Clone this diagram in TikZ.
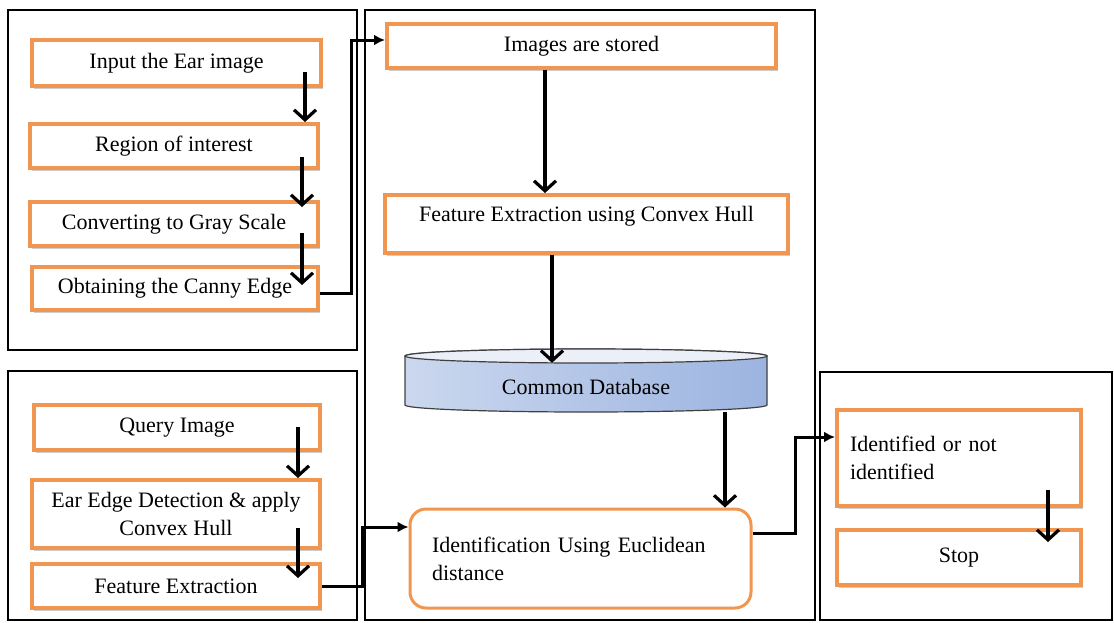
\documentclass[tikz,border=0pt]{standalone}
\usepackage{fontspec}
\setmainfont{Liberation Serif}
\usetikzlibrary{arrows.meta,calc,shadows}
\definecolor{boxorange}{RGB}{240,150,80}
\definecolor{dbblue}{RGB}{156,180,224}
\definecolor{dblight}{RGB}{234,239,248}

\begin{document}
\begin{tikzpicture}[x=1pt,y=-1pt,font=\fontsize{22}{28}\selectfont,
	stepbox/.style={draw=boxorange,line width=4pt,fill=white,inner sep=0pt,align=center,
		drop shadow={opacity=.4,shadow xshift=2pt,shadow yshift=-3pt}},
	roundbox/.style={draw=boxorange,line width=3pt,fill=white,rounded corners=16pt,inner sep=0pt,align=left},
	frame/.style={line width=2.2pt},
	down/.style={-{Straight Barb[length=10pt,width=22pt]},line width=3.2pt},
	link/.style={-{Latex[length=11pt,width=11pt]},line width=3pt}]
	\useasboundingbox (0,0) rectangle (1114,622);

	\draw[frame] (8,10) rectangle (357,350);
	\draw[frame] (8,371) rectangle (357,620);
	\draw[frame] (365,10) rectangle (815,620);
	\draw[frame] (820,372) rectangle (1112,620);

	\node[stepbox,minimum width=289pt,minimum height=46pt] (ear) at (176.5,63) {Input the Ear image};
	\node[stepbox,minimum width=288pt,minimum height=44pt] (roi) at (174,146) {Region of interest};
	\node[stepbox,minimum width=288pt,minimum height=44pt] (gray) at (174,224) {Converting to Gray Scale};
	\node[stepbox,minimum width=286pt,minimum height=43pt] (canny) at (175,288.5) {Obtaining the Canny Edge};

	\node[stepbox,minimum width=286pt,minimum height=45pt] (query) at (177,427.5) {Query Image};
	\node[stepbox,minimum width=288pt,minimum height=68pt] (edge) at (176,514) {Ear Edge Detection \& apply\\Convex Hull};
	\node[stepbox,minimum width=288pt,minimum height=44pt] (featx) at (176,586) {Feature Extraction};

	\node[stepbox,minimum width=389pt,minimum height=44pt] (stored) at (581.5,46) {Images are stored};
	\node[stepbox,minimum width=403pt,minimum height=58pt,text height=15pt,text depth=21pt] (hull) at (586.5,224) {Feature Extraction using Convex Hull};

	\shade[left color=dblight!60!dbblue,middle color=dblight,right color=dbblue,draw=black!75,line width=1.2pt]
		(405,356) -- (405,405) arc[start angle=180,end angle=0,x radius=181,y radius=7]
		-- (767,356) arc[start angle=0,end angle=-180,x radius=181,y radius=7] -- cycle;
	\draw[fill=dblight,draw=black!75,line width=1.2pt] (586,356) ellipse[x radius=181,y radius=7];
	\node[minimum width=362pt,minimum height=56pt,inner sep=0pt,text height=24pt,text depth=3pt] (db) at (586,384) {Common Database};

	\node[roundbox,text width=297pt,inner xsep=22pt,minimum height=99pt] (ident) at (580.5,558.5) {Identification Using Euclidean\\distance};

	\node[stepbox,align=left,text width=218pt,inner xsep=13pt,minimum height=96pt] (identified) at (959,458) {Identified or not\\identified};
	\node[stepbox,minimum width=244pt,minimum height=55pt] (stop) at (959,557.5) {Stop};

	\draw[down] ([xshift=-18pt,yshift=16pt]ear.south east) coordinate (a1) -- (a1 |- roi.north);
	\draw[down] ([xshift=-18pt,yshift=13pt]roi.south east) coordinate (a2) -- ($(a2 |- gray.north)+(0,7)$);
	\draw[down] ([xshift=-18pt,yshift=15pt]gray.south east) coordinate (a3) -- ($(a3 |- canny.north)+(0,20)$);
	\draw[down] ([xshift=-24pt,yshift=25pt]query.south east) coordinate (b1) -- (b1 |- edge.north);
	\draw[down] ([xshift=-24pt,yshift=22pt]edge.south east) coordinate (b2) -- ($(b2 |- featx.north)+(0,16)$);
	\draw[down] ([xshift=-35pt,yshift=18pt]identified.south east) coordinate (c1) -- ($(c1 |- stop.north)+(0,14)$);
	\draw[down] ([xshift=-36.5pt]stored.south) coordinate (m0) -- (m0 |- hull.north);
	\draw[down] ([xshift=-34.5pt]hull.south) coordinate (m1) -- ($(m1 |- db.north)+(0,7)$);
	\draw[down] ([xshift=139pt]db.south) coordinate (m2) -- (m2 |- ident.north);

	\draw[link] ([yshift=-4.5pt]canny.east) -- ++(31,0) |- ([yshift=6pt]stored.west);
	\draw[link] (featx.east) -- ++(40,0) |- ([yshift=31.5pt]ident.west);
	\draw[link] ([yshift=25.5pt]ident.east) -- ++(42.5,0) |- ([yshift=21pt]identified.west);
\end{tikzpicture}
\end{document}
